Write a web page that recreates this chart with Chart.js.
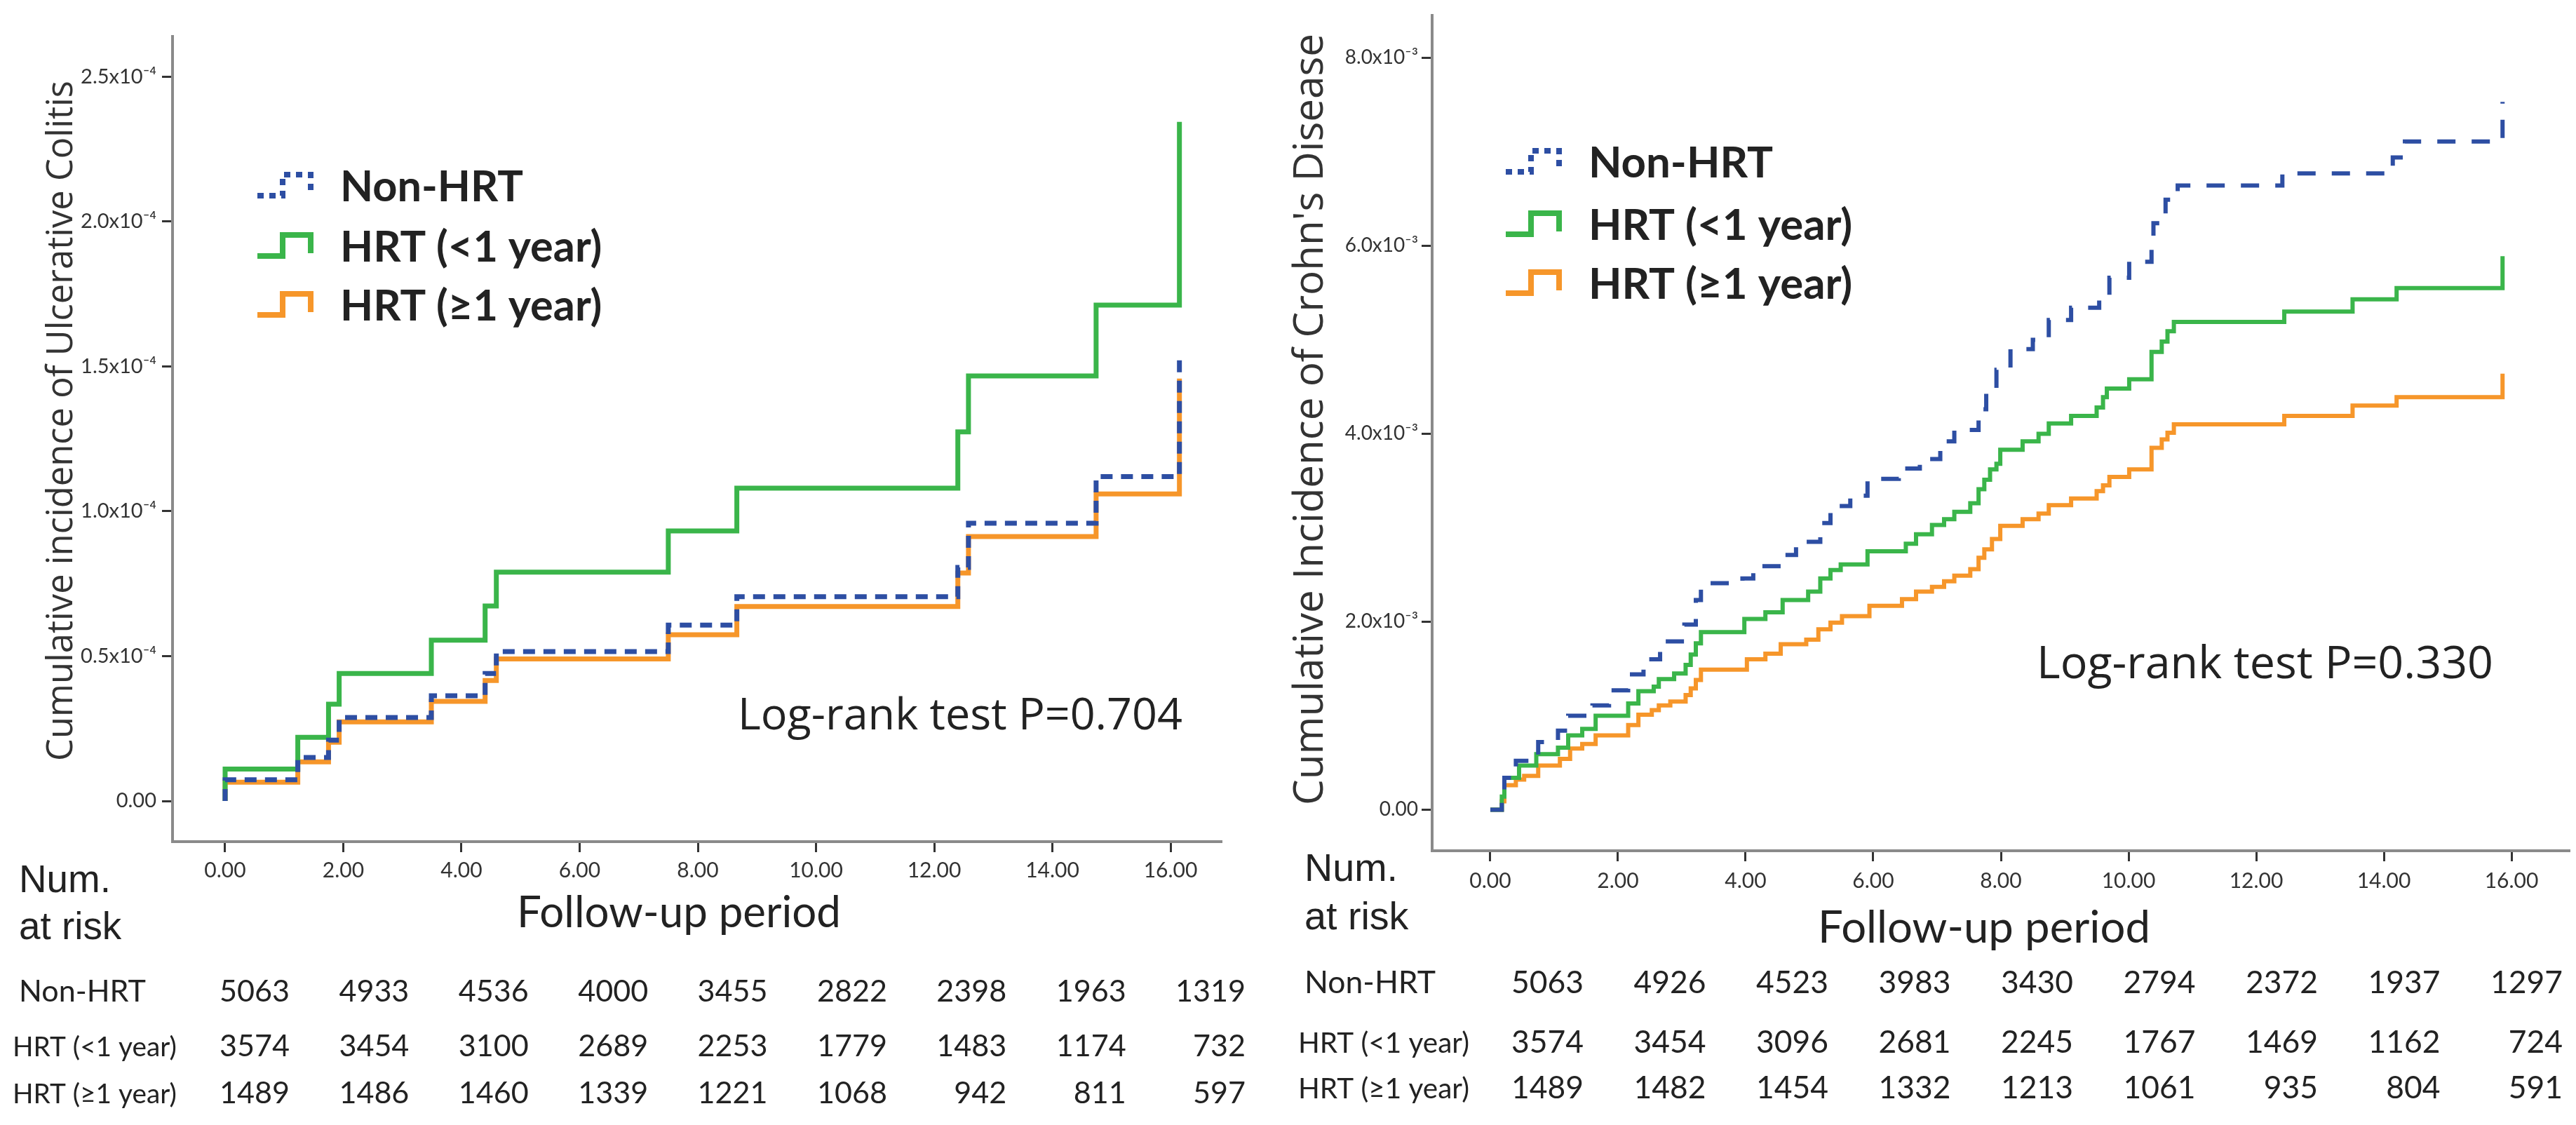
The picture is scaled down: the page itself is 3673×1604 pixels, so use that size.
<!DOCTYPE html>
<html>
<head>
<meta charset="utf-8">
<script src="https://cdn.jsdelivr.net/npm/chart.js@4.4.1/dist/chart.umd.min.js"></script>
<style>
  html, body { margin: 0; padding: 0; background: #fff; }
  #wrap { position: relative; width: 3673px; height: 1604px; }
  canvas { position: absolute; top: 0; }
  #ucChart { left: 0; }
  #cdChart { left: 1836px; }
</style>
</head>
<body>
<div id="wrap">
  <canvas id="ucChart" width="1836" height="1604"></canvas>
  <canvas id="cdChart" width="1837" height="1604"></canvas>
</div>
<script>
// Groups and axis ticks
var groups = ['Non-HRT', 'HRT (<1 year)', 'HRT (\u22651 year)'];
var xTicks = [0, 2, 4, 6, 8, 10, 12, 14, 16];
var ucYTicks = [0, 0.5, 1.0, 1.5, 2.0, 2.5];   // x10^-4
var cdYTicks = [0, 2, 4, 6, 8];                // x10^-3

// Ulcerative colitis, cumulative incidence in units of 10^-4
var ucNonHrtTime   = [0, 0, 1.23, 1.75, 1.93, 3.49, 4.40, 4.59, 7.50, 8.66, 12.40, 12.58, 14.74, 16.15];
var ucNonHrtRate   = [0, 0.073, 0.15, 0.21, 0.288, 0.363, 0.44, 0.516, 0.607, 0.705, 0.806, 0.959, 1.12, 1.528];
var ucHrtShortTime = [0, 0, 1.23, 1.75, 1.93, 3.49, 4.40, 4.59, 7.50, 8.66, 12.40, 12.58, 14.74, 16.15];
var ucHrtShortRate = [0, 0.11, 0.22, 0.334, 0.44, 0.555, 0.673, 0.79, 0.932, 1.08, 1.274, 1.467, 1.712, 2.344];
var ucHrtLongTime  = [0, 0, 1.23, 1.75, 1.93, 3.49, 4.40, 4.59, 7.50, 8.66, 12.40, 12.58, 14.74, 16.15];
var ucHrtLongRate  = [0, 0.065, 0.135, 0.203, 0.273, 0.344, 0.416, 0.49, 0.574, 0.671, 0.787, 0.913, 1.06, 1.458];

// Crohn's disease, cumulative incidence in units of 10^-3
var cdNonHrtTime = [0, 0.18, 0.22, 0.40, 0.75, 1.06, 1.22, 1.60, 1.86, 2.16, 2.40, 2.66, 3.04, 3.22, 3.30,
  3.95, 4.12, 4.55, 4.79, 5.17, 5.33, 5.64, 5.91, 6.40, 6.73, 7.05, 7.27, 7.65, 7.77, 7.93, 8.15, 8.50,
  8.75, 9.10, 9.54, 9.70, 10.01, 10.36, 10.39, 10.58, 10.77, 12.41, 14.14, 14.33, 15.86];
var cdNonHrtRate = [0, 0.14, 0.34, 0.52, 0.72, 0.84, 1.00, 1.11, 1.27, 1.44, 1.60, 1.79, 1.97, 2.23, 2.41,
  2.46, 2.59, 2.71, 2.85, 3.05, 3.23, 3.34, 3.52, 3.63, 3.73, 3.92, 4.04, 4.26, 4.45, 4.68, 4.90, 5.00,
  5.21, 5.34, 5.45, 5.66, 5.83, 5.96, 6.24, 6.49, 6.64, 6.77, 6.94, 7.11, 7.53];
var cdHrtShortTime = [0, 0.18, 0.22, 0.45, 0.72, 1.06, 1.22, 1.44, 1.65, 2.16, 2.32, 2.56, 2.64, 2.88, 3.06,
  3.14, 3.22, 3.30, 3.98, 4.31, 4.58, 4.98, 5.17, 5.33, 5.49, 5.91, 6.51, 6.67, 6.92, 7.11, 7.27, 7.52,
  7.65, 7.74, 7.83, 7.93, 7.99, 8.34, 8.59, 8.75, 9.10, 9.50, 9.60, 9.66, 10.01, 10.36, 10.52, 10.61,
  10.71, 12.44, 13.51, 14.20, 15.86];
var cdHrtShortRate = [0, 0.14, 0.34, 0.47, 0.59, 0.66, 0.79, 0.86, 1.00, 1.13, 1.26, 1.31, 1.39, 1.45, 1.54,
  1.65, 1.77, 1.89, 2.03, 2.10, 2.23, 2.32, 2.46, 2.55, 2.61, 2.75, 2.83, 2.93, 3.03, 3.09, 3.17, 3.26,
  3.41, 3.51, 3.62, 3.68, 3.83, 3.92, 4.00, 4.11, 4.19, 4.28, 4.39, 4.48, 4.58, 4.87, 4.98, 5.09,
  5.19, 5.30, 5.43, 5.55, 5.89];
var cdHrtLongTime = [0, 0.18, 0.22, 0.40, 0.53, 0.75, 1.09, 1.25, 1.44, 1.65, 2.16, 2.32, 2.53, 2.64, 2.82,
  3.06, 3.14, 3.22, 3.30, 4.02, 4.31, 4.55, 4.95, 5.14, 5.33, 5.51, 5.94, 6.45, 6.67, 6.92, 7.11, 7.27,
  7.52, 7.65, 7.74, 7.86, 7.99, 8.34, 8.59, 8.75, 9.10, 9.50, 9.60, 9.70, 10.01, 10.36, 10.52, 10.61,
  10.71, 12.44, 13.51, 14.20, 15.86];
var cdHrtLongRate = [0, 0.09, 0.26, 0.32, 0.36, 0.47, 0.54, 0.65, 0.70, 0.79, 0.90, 1.01, 1.06, 1.11, 1.15,
  1.22, 1.29, 1.38, 1.49, 1.60, 1.66, 1.76, 1.81, 1.92, 1.99, 2.06, 2.17, 2.24, 2.32, 2.37, 2.43, 2.49,
  2.56, 2.68, 2.77, 2.88, 3.02, 3.09, 3.15, 3.24, 3.31, 3.39, 3.45, 3.54, 3.62, 3.85, 3.94, 4.01,
  4.10, 4.19, 4.30, 4.39, 4.64];

// Number at risk at 0, 2, ..., 16 years
var ucRiskNonHrt   = [5063, 4933, 4536, 4000, 3455, 2822, 2398, 1963, 1319];
var ucRiskHrtShort = [3574, 3454, 3100, 2689, 2253, 1779, 1483, 1174, 732];
var ucRiskHrtLong  = [1489, 1486, 1460, 1339, 1221, 1068, 942, 811, 597];
var cdRiskNonHrt   = [5063, 4926, 4523, 3983, 3430, 2794, 2372, 1937, 1297];
var cdRiskHrtShort = [3574, 3454, 3096, 2681, 2245, 1767, 1469, 1162, 724];
var cdRiskHrtLong  = [1489, 1482, 1454, 1332, 1213, 1061, 935, 804, 591];

var BLUE = '#2d4ea3', GREEN = '#3ab54a', ORANGE = '#f6962a';

function toPoints(t, y) {
  return t.map(function (v, i) { return { x: v, y: y[i] }; });
}

// font size that makes text reach a given width
function fitSize(ctx, text, weight, family, width) {
  ctx.font = weight + ' 100px ' + family;
  return 100 * width / ctx.measureText(text).width;
}

// legend, titles, log-rank note and number-at-risk table
function makeExtras(L) {
  return {
    id: 'kmExtras',
    afterDraw: function (chart) {
      var ctx = chart.ctx, xs = chart.scales.x, s;
      ctx.save();
      ctx.fillStyle = '#222';
      ctx.textBaseline = 'alphabetic';

      // y title
      s = fitSize(ctx, L.yTitle.text, 'normal', '"Open Sans"', L.yTitle.len);
      ctx.save();
      ctx.translate(L.yTitle.x, L.yTitle.y);
      ctx.rotate(-Math.PI / 2);
      ctx.font = s + 'px "Open Sans"';
      ctx.textAlign = 'center';
      ctx.textBaseline = 'middle';
      ctx.fillStyle = '#333';
      ctx.fillText(L.yTitle.text, 0, 0);
      ctx.restore();

      // legend
      s = fitSize(ctx, groups[0], 'bold', 'Lato', L.legend.nonWidth);
      chart.data.datasets.forEach(function (ds, i) {
        var b = L.legend.base[i], x0 = L.legend.x;
        ctx.strokeStyle = ds.borderColor;
        ctx.lineWidth = L.legend.lw;
        ctx.setLineDash(ds.borderDash ? L.legend.dash : []);
        ctx.beginPath();
        ctx.moveTo(x0, b - 8);
        ctx.lineTo(x0 + 36, b - 8);
        ctx.lineTo(x0 + 36, b - 38);
        ctx.lineTo(x0 + 76, b - 38);
        ctx.lineTo(x0 + 76, b - 12);
        ctx.stroke();
        ctx.setLineDash([]);
        ctx.font = 'bold ' + s + 'px Lato';
        ctx.textAlign = 'left';
        ctx.fillText(ds.label, L.legend.textX, b);
      });

      // log-rank test
      s = fitSize(ctx, L.logRank.text, 'normal', '"Open Sans"', L.logRank.width);
      ctx.font = s + 'px "Open Sans"';
      ctx.textAlign = 'left';
      ctx.fillText(L.logRank.text, L.logRank.x, L.logRank.base);

      // x title
      s = fitSize(ctx, 'Follow-up period', 'normal', 'Lato', L.xTitle.width);
      ctx.font = s + 'px Lato';
      ctx.textAlign = 'center';
      ctx.fillText('Follow-up period', L.xTitle.x, L.xTitle.base);

      // Num. at risk
      s = fitSize(ctx, 'Num.', 'normal', '"Liberation Sans"', L.numAtRisk.width);
      ctx.font = s + 'px "Liberation Sans"';
      ctx.textAlign = 'left';
      ctx.fillText('Num.', L.numAtRisk.x, L.numAtRisk.base[0]);
      ctx.fillText('at risk', L.numAtRisk.x, L.numAtRisk.base[1]);

      // table
      var T = L.table;
      var sNon = fitSize(ctx, groups[0], 'normal', 'Lato', T.nonWidth);
      var sHrt = fitSize(ctx, groups[1], 'normal', 'Lato', T.hrtWidth);
      var sNum = fitSize(ctx, '5063', 'normal', 'Lato', T.numWidth);
      L.rows.forEach(function (row, r) {
        ctx.font = (r === 0 ? sNon : sHrt) + 'px Lato';
        ctx.textAlign = 'left';
        ctx.fillText(groups[r], T.labelX[r], T.base[r]);
        ctx.font = sNum + 'px Lato';
        ctx.textAlign = 'right';
        row.forEach(function (n, i) {
          var x = xs.getPixelForValue(xTicks[i]) + T.off0 + (T.off16 - T.off0) * i / 8;
          ctx.fillText(String(n), x, T.base[r]);
        });
      });
      ctx.restore();
    }
  };
}

function makeChart(id, sets, yTicks, yMin, yMax, xMin, xMax, expo, box, L) {
  var C = box;
  return new Chart(document.getElementById(id), {
    type: 'line',
    data: {
      datasets: [
        { label: groups[0], data: sets[0], borderColor: BLUE, borderWidth: C.lw, borderDash: C.dash },
        { label: groups[1], data: sets[1], borderColor: GREEN, borderWidth: C.lw },
        { label: groups[2], data: sets[2], borderColor: ORANGE, borderWidth: C.lw }
      ]
    },
    options: {
      responsive: false,
      animation: false,
      devicePixelRatio: 1,
      layout: { padding: { left: 0, top: C.top, right: C.right, bottom: 0 } },
      elements: {
        line: { stepped: true, fill: false, tension: 0 },
        point: { radius: 0, hoverRadius: 0 }
      },
      plugins: { legend: { display: false }, tooltip: { enabled: false } },
      scales: {
        x: {
          type: 'linear', min: xMin, max: xMax,
          afterBuildTicks: function (s) { s.ticks = xTicks.map(function (v) { return { value: v }; }); },
          afterFit: function (s) { s.height = C.xHeight; },
          ticks: {
            autoSkip: false, maxRotation: 0, padding: C.xPad, color: '#333',
            font: { family: 'Lato', size: 30 },
            callback: function (v) { return v.toFixed(2); }
          },
          grid: { drawOnChartArea: false, drawTicks: true, tickLength: 15, tickWidth: 3, tickColor: '#333' },
          border: { display: true, color: '#8a8a8a', width: 4 }
        },
        y: {
          type: 'linear', min: yMin, max: yMax,
          afterBuildTicks: function (s) { s.ticks = yTicks.map(function (v) { return { value: v }; }); },
          afterFit: function (s) { s.width = C.yWidth; },
          ticks: {
            padding: C.yPad, color: '#333',
            font: { family: 'Lato', size: C.yFont },
            callback: function (v) { return v === 0 ? '0.00' : v.toFixed(1) + 'x10' + expo; }
          },
          grid: { drawOnChartArea: false, drawTicks: true, tickLength: 15, tickWidth: 3, tickColor: '#333' },
          border: { display: true, color: '#8a8a8a', width: 4 }
        }
      }
    },
    plugins: [makeExtras(L)]
  });
}

var ucLayout = {
  yTitle: { text: 'Cumulative incidence of Ulcerative Colitis', x: 89, y: 600, len: 970 },
  legend: { x: 367, textX: 485, base: [287, 373, 457], lw: 8, dash: [9, 8], nonWidth: 261 },
  logRank: { text: 'Log-rank test P=0.704', x: 1052, base: 1040, width: 634 },
  xTitle: { x: 968, base: 1322, width: 462 },
  numAtRisk: { x: 27, base: [1272, 1339], width: 131 },
  table: { labelX: [27, 18, 18], base: [1428, 1506, 1573], nonWidth: 181, hrtWidth: 234, numWidth: 100, off0: 92, off16: 107 },
  rows: [ucRiskNonHrt, ucRiskHrtShort, ucRiskHrtLong]
};

var cdLayout = {
  yTitle: { text: "Cumulative Incidence of Crohn's Disease", x: 33, y: 598, len: 1100 },
  legend: { x: 311, textX: 429, base: [253, 342, 426], lw: 8, dash: [9, 8], nonWidth: 263 },
  logRank: { text: 'Log-rank test P=0.330', x: 1068, base: 967, width: 651 },
  xTitle: { x: 993, base: 1344, width: 474 },
  numAtRisk: { x: 24, base: [1256, 1325], width: 133 },
  table: { labelX: [24, 15, 15], base: [1416, 1501, 1566], nonWidth: 187, hrtWidth: 244, numWidth: 103, off0: 133, off16: 73 },
  rows: [cdRiskNonHrt, cdRiskHrtShort, cdRiskHrtLong]
};

makeChart('ucChart',
  [toPoints(ucNonHrtTime, ucNonHrtRate), toPoints(ucHrtShortTime, ucHrtShortRate), toPoints(ucHrtLongTime, ucHrtLongRate)],
  ucYTicks, -0.1404, 2.639, -0.890, 16.866, '\u207B\u2074',
  { lw: 7, dash: [17, 12], top: 52, right: 94, xHeight: 404, yWidth: 246, xPad: 8, yPad: 8, yFont: 29 },
  ucLayout);

makeChart('cdChart',
  [toPoints(cdNonHrtTime, cdNonHrtRate), toPoints(cdHrtShortTime, cdHrtShortRate), toPoints(cdHrtLongTime, cdHrtLongRate)],
  cdYTicks, -0.437, 8.452, -0.912, 16.912, '\u207B\u00B3',
  { lw: 6, dash: [26, 23], top: 13, right: 9, xHeight: 391, yWidth: 206, xPad: 10, yPad: 5, yFont: 28 },
  cdLayout);
</script>
</body>
</html>
